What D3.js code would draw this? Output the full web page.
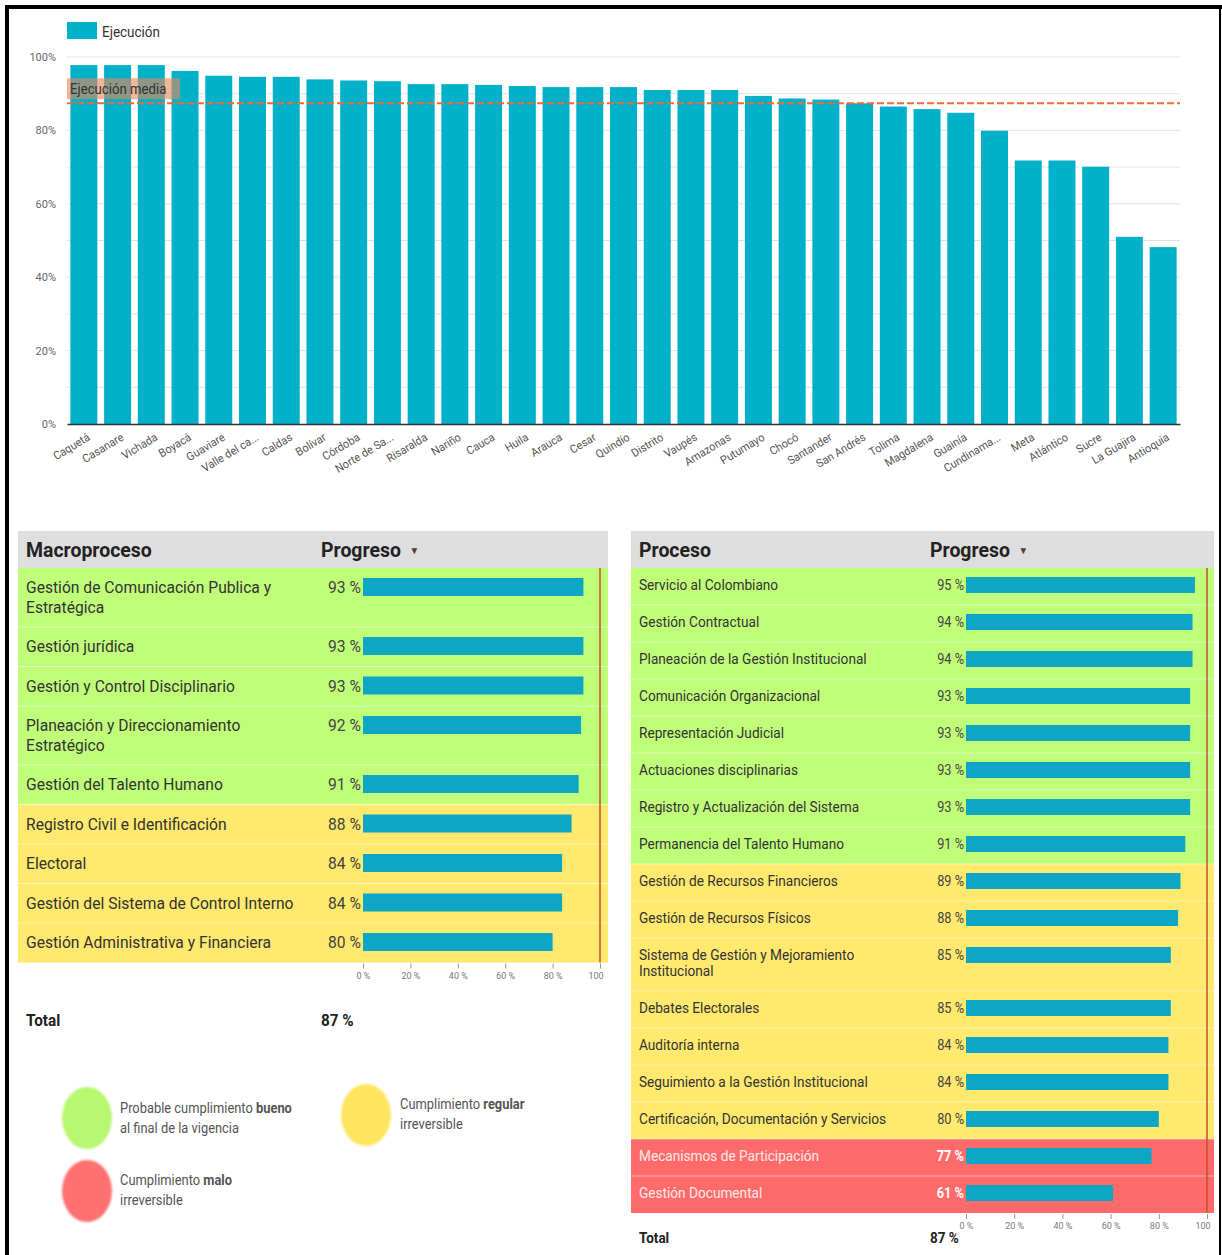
<!DOCTYPE html>
<html>
<head>
<meta charset="utf-8">
<script src="https://cdn.jsdelivr.net/npm/d3@7"></script>
<style>
  body { margin: 0; background: #fff; }
  svg { display: block; }
  text { font-family: Roboto, "Noto Sans", sans-serif; }
</style>
</head>
<body>
<svg id="chart" width="1222" height="1255"></svg>
<script>
// ---- Ejecución por regional ----
const provincias = ["Caquetá", "Casanare", "Vichada", "Boyacá", "Guaviare", "Valle del ca...", "Caldas",
  "Bolívar", "Córdoba", "Norte de Sa...", "Risaralda", "Nariño", "Cauca", "Huila", "Arauca", "Cesar",
  "Quindío", "Distrito", "Vaupés", "Amazonas", "Putumayo", "Chocó", "Santander", "San Andrés", "Tolima",
  "Magdalena", "Guainía", "Cundinama...", "Meta", "Atlántico", "Sucre", "La Guajira", "Antioquia"];
const ejecucion = [0.978, 0.978, 0.978, 0.962, 0.949, 0.946, 0.946, 0.939, 0.936, 0.934, 0.926,
  0.926, 0.924, 0.921, 0.918, 0.918, 0.918, 0.910, 0.910, 0.910, 0.894, 0.887, 0.884, 0.874,
  0.865, 0.858, 0.848, 0.799, 0.718, 0.718, 0.701, 0.510, 0.482];
const ejecucionMedia = 0.874;
const ejecucionTicks = [0, 0.2, 0.4, 0.6, 0.8, 1];

// ---- Macroprocesos ----
const macroprocesos = ["Gestión de Comunicación Publica y Estratégica", "Gestión jurídica",
  "Gestión y Control Disciplinario", "Planeación y Direccionamiento Estratégico",
  "Gestión del Talento Humano", "Registro Civil e Identificación", "Electoral",
  "Gestión del Sistema de Control Interno", "Gestión Administrativa y Financiera"];
const macroProgreso = [0.93, 0.93, 0.93, 0.92, 0.91, 0.88, 0.84, 0.84, 0.80];
const macroEstado = ["bueno", "bueno", "bueno", "bueno", "bueno", "regular", "regular", "regular", "regular"];
const macroTotal = 0.87;

// ---- Procesos ----
const procesos = ["Servicio al Colombiano", "Gestión Contractual", "Planeación de la Gestión Institucional",
  "Comunicación Organizacional", "Representación Judicial", "Actuaciones disciplinarias",
  "Registro y Actualización del Sistema", "Permanencia del Talento Humano",
  "Gestión de Recursos Financieros", "Gestión de Recursos Físicos",
  "Sistema de Gestión y Mejoramiento Institucional", "Debates Electorales", "Auditoría interna",
  "Seguimiento a la Gestión Institucional", "Certificación, Documentación y Servicios",
  "Mecanismos de Participación", "Gestión Documental"];
const procesoProgreso = [0.95, 0.94, 0.94, 0.93, 0.93, 0.93, 0.93, 0.91, 0.89, 0.88, 0.85, 0.85,
  0.84, 0.84, 0.80, 0.77, 0.61];
const procesoEstado = ["bueno", "bueno", "bueno", "bueno", "bueno", "bueno", "bueno", "bueno",
  "regular", "regular", "regular", "regular", "regular", "regular", "regular", "malo", "malo"];
const procesoTotal = 0.87;
const progresoTicks = [0, 0.2, 0.4, 0.6, 0.8, 1];

// ---- Leyenda de cumplimiento ----
const leyendaEstados = ["bueno", "regular", "malo"];
const leyendaTextos = [
  [[["Probable cumplimiento ", false], ["bueno", true]], [["al final de la vigencia", false]]],
  [[["Cumplimiento ", false], ["regular", true]], [["irreversible", false]]],
  [[["Cumplimiento ", false], ["malo", true]], [["irreversible", false]]]
];

const BAR = "#00b1c9";
const TBAR = "#0ea6c5";
const rowFill = { bueno: "#c0fe7a", regular: "#ffe96f", malo: "#ff6b6b" };
const dotFill = { bueno: "#b8f76f", regular: "#ffe55e", malo: "#ff6f6f" };

const svg = d3.select("#chart");
const SX = 0.9; // condensed lettering

function label(g, x, y, str, o = {}) {
  const t = g.append("text")
    .attr("transform", `translate(${x},${y}) scale(${o.sx ?? SX},1)`)
    .attr("font-size", o.size || 14)
    .attr("fill", o.fill || "#333")
    .attr("text-anchor", o.anchor || "start");
  if (o.weight) t.attr("font-weight", o.weight);
  if (Array.isArray(str)) {
    str.forEach(([s, b]) => t.append("tspan").attr("font-weight", b ? "bold" : null).text(s));
  } else t.text(str);
  return t;
}

// ================= Column chart =================
const x = d3.scaleBand().domain(provincias).range([67, 1180]).paddingInner(0.2).paddingOuter(0.1);
const y = d3.scaleLinear().domain([0, 1]).range([424, 57]);
const colG = svg.append("g");

colG.append("g").selectAll("line")
  .data(d3.range(1, 11).map(i => i / 10))
  .join("line")
  .attr("x1", 67).attr("x2", 1180)
  .attr("y1", d => y(d)).attr("y2", d => y(d))
  .attr("stroke", "#e2e2e2").attr("stroke-width", 1);

const yAxis = colG.append("g").attr("transform", "translate(60,0)")
  .call(d3.axisLeft(y).tickValues(ejecucionTicks).tickFormat(d3.format(".0%")).tickSize(0).tickPadding(4));
yAxis.select(".domain").remove();
yAxis.selectAll("text").attr("font-size", 11).attr("fill", "#666")
  .attr("font-family", "Roboto, sans-serif");

colG.append("g").selectAll("rect")
  .data(provincias)
  .join("rect")
  .attr("x", d => x(d))
  .attr("width", x.bandwidth())
  .attr("y", (d, i) => y(ejecucion[i]))
  .attr("height", (d, i) => y(0) - y(ejecucion[i]))
  .attr("fill", BAR);

const xAxis = colG.append("g").attr("transform", `translate(0,${y(0)})`)
  .call(d3.axisBottom(x).tickSize(0).tickSizeOuter(0));
xAxis.select(".domain").attr("stroke", "#333").attr("stroke-width", 1.5);
xAxis.selectAll("text")
  .attr("font-size", 11.5).attr("fill", "#555").attr("font-family", "Roboto, sans-serif")
  .attr("text-anchor", "end").attr("y", 0).attr("dy", "0.35em")
  .attr("transform", "translate(5,12) rotate(-31) scale(0.95,1)");

// mean line with its label
colG.append("line")
  .attr("x1", 67).attr("x2", 1180)
  .attr("y1", y(ejecucionMedia)).attr("y2", y(ejecucionMedia))
  .attr("stroke", "#f2683a").attr("stroke-width", 2).attr("stroke-dasharray", "7,3");
colG.append("rect").attr("x", 67).attr("y", y(ejecucionMedia) - 25).attr("width", 113).attr("height", 21)
  .attr("fill", "#ec8358").attr("opacity", 0.6);
label(colG, 70, y(ejecucionMedia) - 9, "Ejecución media", { size: 15, fill: "#333", sx: 0.88 });

// legend
colG.append("rect").attr("x", 67).attr("y", 22).attr("width", 30).attr("height", 17).attr("fill", BAR);
label(colG, 102, 37, "Ejecución", { size: 15, fill: "#333" });

// ================= Tables =================
function drawTable(cfg) {
  const g = svg.append("g");
  const sc = d3.scaleLinear().domain([0, 1]).range([cfg.zeroX, cfg.fullX]);

  // header
  g.append("rect").attr("x", cfg.x0).attr("y", cfg.top).attr("width", cfg.x1 - cfg.x0)
    .attr("height", cfg.headH).attr("fill", "#dedede");
  label(g, cfg.labelX, cfg.top + 26, cfg.head, { size: cfg.headSize, weight: "bold", fill: "#222", sx: 0.95 });
  const ph = label(g, cfg.valueHeadX, cfg.top + 26, "Progreso", { size: cfg.headSize, weight: "bold", fill: "#222", sx: 0.95 });
  ph.append("tspan").attr("font-size", cfg.headSize * 0.5).attr("font-weight", "normal")
    .attr("fill", "#444").attr("dx", 9).attr("dy", -3).text("▼");

  // wrap names by measured width
  const meas = svg.append("text").attr("font-size", cfg.labelSize).attr("font-family", "Roboto");
  const lines = cfg.names.map(n => {
    const words = n.split(" ");
    const out = [];
    let cur = "";
    words.forEach(w => {
      const test = cur ? cur + " " + w : w;
      meas.text(test);
      if (meas.node().getComputedTextLength() * cfg.sx > cfg.wrap && cur) { out.push(cur); cur = w; }
      else cur = test;
    });
    out.push(cur);
    return out;
  });
  meas.remove();

  let yy = cfg.top + cfg.headH;
  const rows = lines.map((ls, i) => {
    const h = cfg.pad + ls.length * cfg.lineH;
    const r = { top: yy, h, ls, i };
    yy += h;
    return r;
  });
  const bottom = yy;

  rows.forEach(r => {
    const st = cfg.status[r.i];
    g.append("rect").attr("x", cfg.x0).attr("y", r.top).attr("width", cfg.x1 - cfg.x0)
      .attr("height", r.h).attr("fill", rowFill[st]);
  });
  rows.forEach(r => {
    if (r.i > 0) g.append("line").attr("x1", cfg.x0).attr("x2", cfg.x1).attr("y1", r.top).attr("y2", r.top)
      .attr("stroke", "#fff").attr("stroke-opacity", 0.45);
  });
  rows.forEach(r => {
    const st = cfg.status[r.i];
    const tf = st === "malo" ? "#ffe8e8" : "#333";
    r.ls.forEach((l, k) => label(g, cfg.labelX, r.top + cfg.textOff + k * cfg.lineH, l,
      { size: cfg.labelSize, fill: tf, sx: cfg.sx }));
    label(g, cfg.zeroX - 2, r.top + cfg.textOff, Math.round(cfg.values[r.i] * 100) + " %",
      { size: cfg.valueSize, fill: st === "malo" ? "#fff" : "#444", anchor: "end", sx: cfg.sx,
        weight: st === "malo" ? "bold" : null });
    g.append("rect").attr("x", sc(0)).attr("y", r.top + cfg.barOff)
      .attr("width", sc(cfg.values[r.i]) - sc(0)).attr("height", cfg.barH).attr("fill", TBAR);
  });

  // 100 % reference line
  g.append("line").attr("x1", sc(1)).attr("x2", sc(1)).attr("y1", cfg.top + cfg.headH).attr("y2", bottom)
    .attr("stroke", "#c4502a").attr("stroke-width", 1.5);

  // progress axis (the last label is cut at the table edge)
  const clipId = "clip" + cfg.x0;
  svg.append("clipPath").attr("id", clipId).append("rect")
    .attr("x", cfg.x0).attr("y", -2).attr("width", cfg.x1 - cfg.x0 - 3).attr("height", 30);
  const ax = g.append("g").attr("transform", `translate(0,${bottom + 1})`).attr("clip-path", `url(#${clipId})`)
    .call(d3.axisBottom(sc).tickValues(progresoTicks).tickFormat(d => Math.round(d * 100) + " %").tickSize(5).tickPadding(4));
  ax.select(".domain").remove();
  ax.selectAll("line").attr("stroke", "#999");
  ax.selectAll("text").attr("font-size", 9).attr("fill", "#777").attr("font-family", "Roboto, sans-serif");

  // total
  label(g, cfg.labelX, cfg.totalY, "Total", { size: cfg.totalSize, weight: "bold", fill: "#222" });
  label(g, cfg.valueHeadX, cfg.totalY, Math.round(cfg.total * 100) + " %", { size: cfg.totalSize, weight: "bold", fill: "#222" });
}

drawTable({
  x0: 18, x1: 608, top: 531, headH: 37, head: "Macroproceso", headSize: 20.5,
  labelX: 26, valueHeadX: 321, zeroX: 363, fullX: 600, wrap: 280, sx: 0.92,
  names: macroprocesos, values: macroProgreso, status: macroEstado, total: macroTotal,
  labelSize: 17, valueSize: 17, pad: 20, lineH: 19.5, textOff: 25, barOff: 10, barH: 18,
  totalY: 1026, totalSize: 17
});

drawTable({
  x0: 631, x1: 1214, top: 531, headH: 37, head: "Proceso", headSize: 20.5,
  labelX: 639, valueHeadX: 930, zeroX: 966, fullX: 1207, wrap: 260, sx: 0.91,
  names: procesos, values: procesoProgreso, status: procesoEstado, total: procesoTotal,
  labelSize: 15, valueSize: 14, pad: 21, lineH: 16, textOff: 22, barOff: 9, barH: 16,
  totalY: 1243, totalSize: 15
});

// ================= Status legend =================
const defs = svg.append("defs");
defs.append("filter").attr("id", "soft").append("feGaussianBlur").attr("stdDeviation", 1.2);
const legPos = [[87, 1118, 120, 1113], [366, 1115, 400, 1109], [87, 1191, 120, 1185]];
const lg = svg.append("g");
leyendaEstados.forEach((e, i) => {
  const [cx, cy, tx, ty] = legPos[i];
  lg.append("ellipse").attr("cx", cx).attr("cy", cy).attr("rx", 25).attr("ry", 31)
    .attr("fill", dotFill[e]).attr("filter", "url(#soft)");
  leyendaTextos[i].forEach((ln, k) => label(lg, tx, ty + k * 20, ln, { size: 15, fill: "#555", sx: 0.86 }));
});

// frame
const fr = svg.append("g").attr("fill", "none").attr("stroke", "#000");
fr.append("line").attr("x1", 5).attr("x2", 1222).attr("y1", 7).attr("y2", 7).attr("stroke-width", 4);
fr.append("line").attr("x1", 7).attr("x2", 7).attr("y1", 5).attr("y2", 1255).attr("stroke-width", 4);
fr.append("line").attr("x1", 1220).attr("x2", 1220).attr("y1", 7).attr("y2", 1255).attr("stroke-width", 2);
</script>
</body>
</html>
